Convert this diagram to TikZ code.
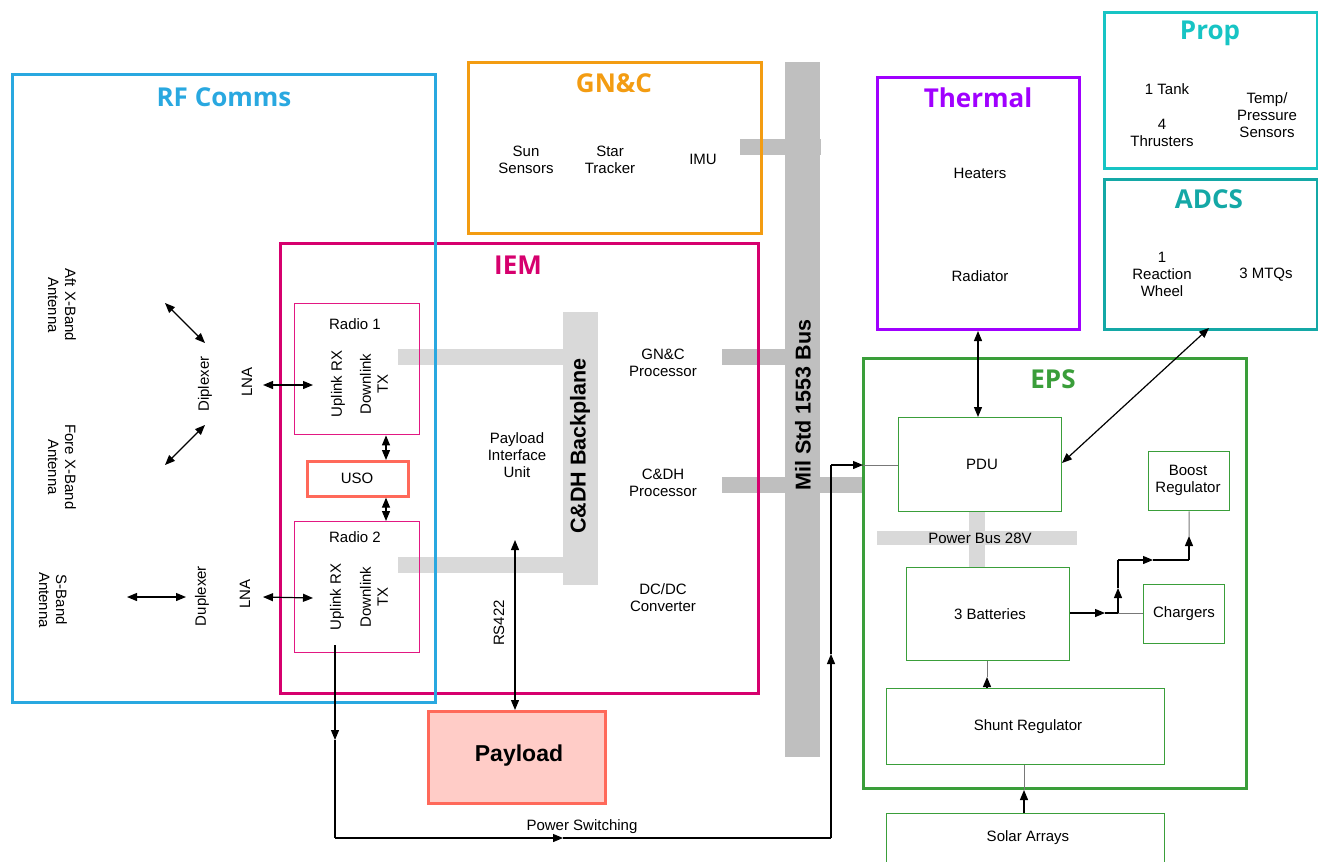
\documentclass[tikz,border=0pt]{standalone}
\usepackage{fontspec}
\setmainfont{Liberation Sans}
\newfontfamily\titlefont{Open Sans}
\usetikzlibrary{arrows.meta}
\definecolor{rfblue}{RGB}{41,168,224}
\definecolor{gncorange}{RGB}{243,156,18}
\definecolor{iemmag}{RGB}{214,0,110}
\definecolor{radiopink}{RGB}{226,24,130}
\definecolor{coral}{RGB}{255,105,90}
\definecolor{payfill}{RGB}{255,204,199}
\definecolor{thermpur}{RGB}{160,0,255}
\definecolor{propteal}{RGB}{23,196,196}
\definecolor{adcsteal}{RGB}{20,168,166}
\definecolor{epsgreen}{RGB}{58,158,58}
\definecolor{busgray}{RGB}{191,191,191}
\definecolor{lightbar}{RGB}{217,217,217}
\definecolor{connGray}{RGB}{120,120,120}
\tikzset{
  grp/.style={draw=#1, line width=3pt, inner sep=0pt, anchor=north west},
  sub/.style={draw=#1, line width=1.4pt, inner sep=0pt, anchor=north west},
  barbox/.style={fill=#1, draw=none, inner sep=0pt, anchor=north west},
  ttl/.style={font=\titlefont\bfseries\fontsize{26}{30}\selectfont, text=#1, inner sep=0pt},
  lbl/.style={font=\fontsize{15}{17}\selectfont, align=center, inner sep=0pt},
  bigl/.style={font=\bfseries\fontsize{21.5}{24}\selectfont, align=center, inner sep=0pt},
  arr/.style={line width=1.2pt, -{Triangle[length=10pt,width=8pt]}},
  darr/.style={line width=1.2pt, {Triangle[length=10pt,width=8pt]}-{Triangle[length=10pt,width=8pt]}},
  conn/.style={line width=1.1pt, draw=black},
  gconn/.style={line width=1pt, draw=connGray}
}
\begin{document}
\begin{tikzpicture}[x=1pt,y=-1pt]
\useasboundingbox (0,0) rectangle (1318,862);
\clip (0,0) rectangle (1318,862);
% ---------- bars ----------
\node[barbox=busgray, minimum width=35pt, minimum height=695pt] (bus) at (785,62) {};
\node[barbox=busgray, minimum width=81pt, minimum height=16pt] (imubar) at (740,139) {};
\node[barbox=busgray, minimum width=63pt, minimum height=16pt] (gncbar) at (722,349) {};
\node[barbox=busgray, minimum width=141pt, minimum height=16pt] (cdhbar) at (722,477) {};
\node[barbox=lightbar, minimum width=165pt, minimum height=16pt] (r1bar) at (398,349) {};
\node[barbox=lightbar, minimum width=165pt, minimum height=16pt] (r2bar) at (398,557) {};
\node[barbox=lightbar, minimum width=35pt, minimum height=273pt] (bkpl) at (563,312) {};
\node[barbox=lightbar, minimum width=200pt, minimum height=14pt] (pbus) at (877,531) {};
\node[barbox=lightbar, minimum width=16pt, minimum height=56pt] (pbusv) at (969,511) {};
% ---------- group boxes ----------
\node[grp=iemmag, minimum width=478pt, minimum height=450pt] (iem) at (279,242) {};
\node[grp=rfblue, minimum width=423pt, minimum height=628pt] (rf) at (11,73) {};
\node[grp=gncorange, minimum width=293pt, minimum height=171pt] (gnc) at (467,61) {};
\node[grp=thermpur, minimum width=202pt, minimum height=252pt] (therm) at (876,76) {};
\node[grp=propteal, line width=2.6pt, minimum width=213pt, minimum height=156pt] (prop) at (1103,11) {};
\node[grp=adcsteal, line width=2.6pt, minimum width=213pt, minimum height=150pt] (adcs) at (1103,178) {};
\node[grp=epsgreen, minimum width=383pt, minimum height=430pt] (eps) at (862,357) {};
% ---------- sub boxes ----------
\node[sub=radiopink, minimum width=125pt, minimum height=131pt] (radio1) at (294,303) {};
\node[sub=radiopink, minimum width=125pt, minimum height=131pt] (radio2) at (294,521) {};
\node[sub=coral, line width=2.6pt, minimum width=101pt, minimum height=35pt] (uso) at (306,460) {};
\node[sub=coral, fill=payfill, line width=3pt, minimum width=177pt, minimum height=92pt] (payload) at (427,710) {};
\node[sub=epsgreen, minimum width=163pt, minimum height=94pt] (pdu) at (898,417) {};
\node[sub=epsgreen, minimum width=81pt, minimum height=59pt] (boost) at (1148,451) {};
\node[sub=epsgreen, minimum width=163pt, minimum height=93pt] (bat) at (906,567) {};
\node[sub=epsgreen, minimum width=81pt, minimum height=59pt] (chg) at (1143,584) {};
\node[sub=epsgreen, minimum width=278pt, minimum height=76pt] (shunt) at (886,688) {};
\node[sub=epsgreen, minimum width=278pt, minimum height=70pt] (solar) at (886,813) {};
% ---------- titles ----------
\node[ttl=rfblue] (trf) at (224,97) {RF Comms};
\node[ttl=gncorange] (tgnc) at (614,83) {GN\&C};
\node[ttl=iemmag] (tiem) at (518,265) {IEM};
\node[ttl=thermpur] (ttherm) at (978,98) {Thermal};
\node[ttl=propteal] (tprop) at (1210,33) {Prop};
\node[ttl=adcsteal] (tadcs) at (1209,199) {ADCS};
\node[ttl=epsgreen] (teps) at (1053,379) {EPS};
% ---------- RF labels ----------
\node[lbl, rotate=-90] (aft) at (62,305) {Aft X-Band\\Antenna};
\node[lbl, rotate=-90] (fore) at (62,467) {Fore X-Band\\Antenna};
\node[lbl, rotate=-90] (sband) at (53,600) {S-Band\\Antenna};
\node[lbl, rotate=90] (dipl) at (205,384) {Diplexer};
\node[lbl, rotate=90] (lna1) at (247,382) {LNA};
\node[lbl, rotate=90] (dupl) at (202,596) {Duplexer};
\node[lbl, rotate=90] (lna2) at (245,594) {LNA};
\node[lbl] (r1t) at (355,324) {Radio 1};
\node[lbl, rotate=90] (r1u) at (338,384) {Uplink RX};
\node[lbl, rotate=90] (r1d) at (374,384) {Downlink\\TX};
\node[lbl] (r2t) at (355,537) {Radio 2};
\node[lbl, rotate=90] (r2u) at (337,597) {Uplink RX};
\node[lbl, rotate=90] (r2d) at (374,597) {Downlink\\TX};
\node[lbl] (usot) at (357,478) {USO};
% ---------- GN&C labels ----------
\node[lbl] (sun) at (526,160) {Sun\\Sensors};
\node[lbl] (star) at (610,160) {Star\\Tracker};
\node[lbl] (imu) at (703,159) {IMU};
% ---------- IEM labels ----------
\node[lbl] (piu) at (517,455) {Payload\\Interface\\Unit};
\node[bigl, rotate=90] (bkt) at (580,446) {C\&DH Backplane};
\node[lbl] (gncp) at (663,363) {GN\&C\\Processor};
\node[lbl] (cdhp) at (663,483) {C\&DH\\Processor};
\node[lbl] (dcdc) at (663,598) {DC/DC\\Converter};
\node[bigl, rotate=90] (bust) at (803,405) {Mil Std 1553 Bus};
\node[lbl, rotate=90] (rs) at (499,623) {RS422};
\node[font=\bfseries\fontsize{23}{26}\selectfont, inner sep=0pt] (payt) at (519,756) {Payload};
% ---------- right labels ----------
\node[lbl] (heat) at (980,173) {Heaters};
\node[lbl] (rad) at (980,276) {Radiator};
\node[lbl] (tank) at (1167,89) {1 Tank};
\node[lbl] (thr) at (1162,133) {4\\Thrusters};
\node[lbl] (tps) at (1267,115) {Temp/\\Pressure\\Sensors};
\node[lbl] (rw) at (1162,274) {1\\Reaction\\Wheel};
\node[lbl] (mtq) at (1266,275) {3 MTQs};
\node[lbl] (pdut) at (982,464) {PDU};
\node[lbl] (pbt) at (980,538) {Power Bus 28V};
\node[lbl] (batt) at (990,614) {3 Batteries};
\node[lbl] (chgt) at (1184,614) {Chargers};
\node[lbl] (boostt) at (1188,480) {Boost\\Regulator};
\node[lbl] (shuntt) at (1028,727) {Shunt Regulator};
\node[lbl] (solart) at (1028,838) {Solar Arrays};
\node[lbl] (pst) at (582,827) {Power Switching};
% ---------- RF arrows ----------
\coordinate (aftA) at (165,303); \coordinate (aftB) at (205,343);
\coordinate (foreA) at (165,465); \coordinate (foreB) at (205,425);
\draw[darr] (aftA) -- (aftB);
\draw[darr] (foreA) -- (foreB);
\coordinate (l1a) at (263,385); \coordinate (l1b) at (313,385);
\draw[darr] (l1a) -- (l1b);
\coordinate (sba) at (127,597); \coordinate (sbb) at (186,597);
\draw[darr] (sba) -- (sbb);
\coordinate (l2a) at (263,597); \coordinate (l2b) at (313,598);
\draw[darr] (l2a) -- (l2b);
\draw[darr] (radio1.south -| 386,0) -- (uso.north -| 386,0);
\draw[darr] (uso.south -| 386,0) -- (radio2.north -| 386,0);
% RS422
\coordinate (rsTop) at (515,540);
\draw[darr] (rsTop) -- (payload.north -| rsTop);
% ---------- power switching ----------
\coordinate (ps0) at (335,645);
\coordinate (ps1) at (335,740);
\coordinate (ps2) at (335,838);
\coordinate (ps3) at (563,838);
\coordinate (ps4) at (831,838);
\coordinate (ps5) at (831,654);
\coordinate (ps6) at (831,465);
\coordinate (ps7) at (863,465);
\draw[arr] (ps0) -- (ps1);
\draw[conn] (ps1) -- (ps2);
\draw[arr] (ps2) -- (ps3);
\draw[conn] (ps3) -- (ps4);
\draw[arr] (ps4) -- (ps5);
\draw[conn] (ps5) -- (ps6);
\draw[arr] (ps6) -- (ps7);
\draw[gconn] (ps7) -- (ps7 -| pdu.west);
% ---------- thermal / adcs ----------
\draw[darr] (therm.south -| 978,0) -- (pdu.north -| 978,0);
\coordinate (adcsA) at (1209,328);
\coordinate (pduR) at (1062,463);
\draw[darr] (adcsA) -- (pduR);
% ---------- EPS internal ----------
\coordinate (bj) at (1105,613);
\coordinate (jn) at (1118,613);
\draw[arr] (bat.east |- bj) -- (bj);
\draw[conn] (bj) -- (jn);
\draw[gconn] (jn) -- (chg.west |- jn);
\coordinate (ju) at (1118,588);
\coordinate (jc) at (1118,560);
\coordinate (jr) at (1153,560);
\coordinate (jbc) at (1189,560);
\coordinate (jbu) at (1189,536);
\draw[arr] (jn) -- (ju);
\draw[conn] (ju) -- (jc);
\draw[arr] (jc) -- (jr);
\draw[conn] (jr) -- (jbc);
\draw[arr] (jbc) -- (jbu);
\draw[gconn] (jbu) -- (boost.south |- jbu) -- (boost.south -| jbu);
\coordinate (sh1) at (987,677);
\draw[arr] (shunt.north -| sh1) -- (sh1);
\draw[gconn] (sh1) -- (bat.south -| sh1);
\coordinate (so1) at (1024,790);
\draw[arr] (solar.north -| so1) -- (so1);
\draw[gconn] (so1) -- (shunt.south -| so1);
\end{tikzpicture}
\end{document}
